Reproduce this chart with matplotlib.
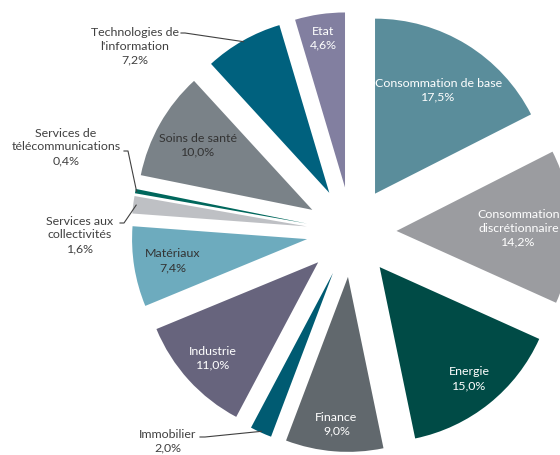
import numpy as np
import matplotlib
matplotlib.use("Agg")
import matplotlib.pyplot as plt

# ---------------- data ----------------
sectors = ["Consommation de base", "Consommation\ndiscrétionnaire", "Energie", "Finance",
           "Immobilier", "Industrie", "Matériaux", "Services aux\ncollectivités",
           "Services de\ntélécommunications", "Soins de santé",
           "Technologies de\nl'information", "Etat"]
weights = [17.5, 14.2, 15.0, 9.0, 2.0, 11.0, 7.4, 1.6, 0.4, 10.0, 7.2, 4.6]

# ---------------- style ----------------
colors = ["#5A8D9B", "#9B9CA0", "#004B46", "#61686D", "#005B72", "#67647D",
          "#6DABBE", "#BEC0C4", "#00675C", "#7A8288", "#00617E", "#827FA0"]
inside = [True, True, True, True, False, True, True, False, False, True, False, True]
label_dist = [0.95, 0.955, 1.075, 1.10, None, 1.07, 1.035, None, None, 1.01, None, 1.12]
text_colors = ["white", "white", "white", "white", "#404040", "white", "#333333",
               "#404040", "#404040", "#333333", "#404040", "white"]
# outside labels: text centre (pixels from top-left), leader start
outside_pos = {4: (168, 441), 7: (80, 235), 8: (66, 147), 10: (135, 46)}
leader_start = {4: [(200, 437), (205, 437)], 7: [(120, 223), (124, 223)],
                8: [(124, 151), (128, 151)], 10: [(181, 33), (185, 33)]}
leader_r = {4: 1.25, 7: 1.24, 8: 1.25, 10: 1.25}

W, H = 560, 455
R = 175.0
cx, cy = 351.5, H - 232.0
explode_px = 45.0

plt.rcParams['font.family'] = ['Lato', 'DejaVu Sans']
fig = plt.figure(figsize=(W / 100, H / 100), dpi=100)
ax = fig.add_axes([0, 0, 1, 1])
wedges, _ = ax.pie(weights, colors=colors, startangle=90, counterclock=False,
                   explode=[explode_px] * len(weights), radius=R, center=(cx, cy),
                   wedgeprops=dict(linewidth=0))
ax.set_xlim(0, W)
ax.set_ylim(0, H)
ax.set_aspect('equal')
ax.axis('off')

total = sum(weights)
cum = 0.0
fs = 8.9
for i, (name, w) in enumerate(zip(sectors, weights)):
    mid = cum + w / 2
    cum += w
    ang = np.deg2rad(90 - 360 * mid / total)
    pct = f"{w:.1f}".replace(".", ",") + "%"
    txt = name + "\n" + pct
    if inside[i]:
        d = label_dist[i] * R
        x, y = cx + d * np.cos(ang), cy + d * np.sin(ang)
        ax.text(x, y, txt, ha='center', va='center', fontsize=fs,
                color=text_colors[i], linespacing=1.3, clip_on=False)
    else:
        px, py = outside_pos[i]
        ax.text(px, H - py, txt, ha='center', va='center', fontsize=fs,
                color=text_colors[i], linespacing=1.3)
        d = leader_r[i] * R
        ex, ey = cx + d * np.cos(ang), cy + d * np.sin(ang)
        pts = leader_start[i]
        xs = [p[0] for p in pts] + [ex]
        ys = [H - p[1] for p in pts] + [ey]
        ax.plot(xs, ys, color="#404040", lw=0.8)

fig.savefig("out.png", dpi=100)
